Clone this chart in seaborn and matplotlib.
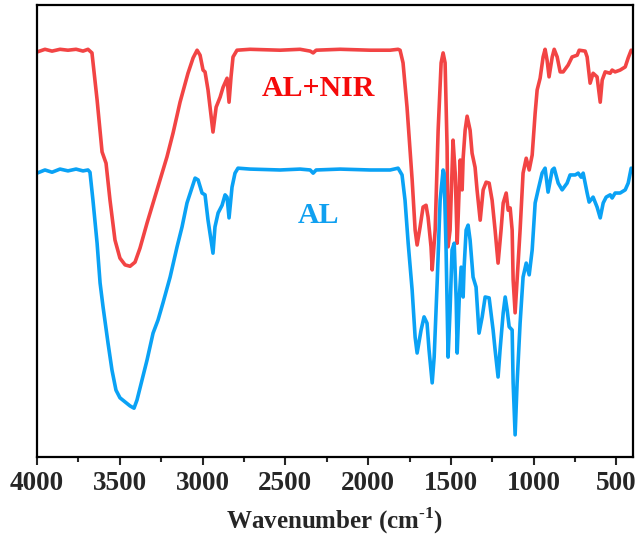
import matplotlib
matplotlib.use("Agg")
import matplotlib.pyplot as plt
from matplotlib.ticker import MultipleLocator
import seaborn as sns
import pandas as pd

# AL+NIR spectrum (wavenumber cm-1, transmittance a.u.)
wn_alnir = [4000, 3952, 3909, 3861, 3813, 3764, 3722, 3692, 3668, 3637, 3607, 3583, 3559, 3529,
            3499, 3468, 3438, 3408, 3378, 3335, 3275, 3215, 3178, 3136, 3088, 3057, 3033, 3015,
            2997, 2985, 2967, 2937, 2918, 2894, 2876, 2852, 2840, 2828, 2816, 2792, 2713, 2532,
            2411, 2350, 2332, 2314, 2169, 1988, 1867, 1819, 1807, 1789, 1765, 1734, 1716, 1704,
            1686, 1668, 1650, 1638, 1620, 1613, 1595, 1577, 1559, 1547, 1535, 1523, 1517, 1505,
            1493, 1487, 1474, 1462, 1456, 1444, 1432, 1426, 1414, 1402, 1384, 1372, 1354, 1342,
            1323, 1305, 1287, 1269, 1251, 1233, 1215, 1197, 1184, 1166, 1154, 1142, 1130, 1124,
            1112, 1100, 1082, 1064, 1045, 1027, 1009, 991, 979, 961, 943, 931, 919, 907, 888,
            876, 858, 840, 822, 792, 768, 737, 725, 689, 677, 659, 641, 617, 598, 586, 568, 538,
            526, 508, 478, 447, 429, 411]
t_alnir = [89.6, 90.2, 89.8, 90.2, 90.0, 90.2, 89.8, 90.2, 89.4, 79.0, 67.5, 65.0, 56.8, 48.0,
           44.0, 42.5, 42.2, 43.1, 46.2, 51.8, 59.1, 66.4, 71.7, 78.5, 84.9, 88.3, 90.0, 88.9,
           85.6, 85.2, 81.2, 71.9, 77.4, 79.6, 81.8, 83.8, 78.5, 84.1, 88.5, 90.0, 90.2, 90.0,
           90.2, 89.8, 89.4, 90.0, 90.2, 90.0, 90.0, 90.2, 90.0, 87.2, 77.4, 61.3, 50.2, 46.9,
           50.9, 55.3, 55.7, 53.1, 46.5, 41.4, 50.2, 72.3, 87.2, 89.4, 87.2, 68.6, 46.5, 50.2,
           63.5, 70.1, 62.8, 47.3, 53.1, 65.7, 59.1, 66.1, 72.3, 75.4, 72.3, 67.2, 64.1, 59.1,
           52.4, 59.1, 60.8, 60.6, 56.8, 50.2, 42.9, 50.2, 56.2, 58.4, 54.6, 55.1, 50.2, 39.2,
           31.9, 39.2, 50.2, 62.8, 66.1, 63.5, 66.8, 76.1, 81.2, 83.8, 88.5, 90.2, 87.8, 84.1, 88.5,
           90.2, 88.5, 85.2, 85.2, 86.7, 88.5, 88.9, 90.0, 89.8, 88.5, 82.7, 84.9, 84.1, 78.5, 83.4,
           85.2, 84.9, 85.6, 85.2, 85.6, 86.3, 88.3, 90.0]

# AL spectrum
wn_al = [4000, 3952, 3909, 3861, 3813, 3764, 3722, 3692, 3680, 3662, 3637, 3619, 3601, 3571,
         3547, 3523, 3499, 3468, 3438, 3414, 3396, 3366, 3335, 3299, 3269, 3239, 3196, 3154,
         3124, 3094, 3063, 3045, 3027, 3003, 2985, 2967, 2937, 2925, 2906, 2882, 2864, 2852,
         2840, 2822, 2804, 2786, 2713, 2532, 2411, 2350, 2332, 2314, 2169, 1988, 1867, 1819,
         1795, 1777, 1758, 1734, 1716, 1704, 1680, 1662, 1644, 1632, 1613, 1601, 1583, 1565,
         1547, 1541, 1529, 1517, 1505, 1493, 1480, 1468, 1462, 1450, 1438, 1426, 1420, 1408,
         1396, 1384, 1366, 1348, 1330, 1311, 1293, 1269, 1245, 1233, 1215, 1203, 1184, 1172,
         1160, 1148, 1130, 1124, 1112, 1100, 1082, 1064, 1045, 1027, 1009, 991, 973, 949, 931,
         913, 888, 876, 852, 828, 798, 780, 749, 731, 713, 701, 677, 665, 641, 617, 598, 580,
         562, 538, 526, 508, 478, 447, 429, 411]
t_al = [62.8, 63.5, 63.0, 63.7, 63.3, 63.7, 63.3, 63.5, 63.0, 56.8, 47.3, 38.5, 33.2, 25.2,
        19.2, 14.8, 13.1, 12.2, 11.3, 10.8, 12.6, 17.0, 21.5, 27.4, 30.3, 34.1, 39.8, 46.5,
        50.9, 56.2, 59.7, 61.7, 61.3, 58.4, 58.0, 52.4, 45.1, 50.9, 54.0, 55.7, 58.0, 57.5,
        52.9, 59.7, 62.8, 63.9, 63.7, 63.5, 63.7, 63.5, 62.8, 63.5, 63.7, 63.5, 63.5, 63.9,
        62.4, 56.8, 47.3, 36.9, 26.5, 23.0, 28.1, 31.0, 29.6, 23.7, 16.4, 22.1, 38.5, 56.8,
        63.5, 62.8, 45.8, 22.1, 32.5, 45.8, 47.3, 34.7, 23.0, 34.7, 42.0, 35.4, 42.0, 50.2,
        51.3, 48.0, 39.8, 37.6, 27.4, 31.0, 35.4, 35.2, 28.1, 23.7, 17.7, 23.7, 31.9, 35.4,
        32.5, 28.8, 28.1, 16.4, 4.9, 16.4, 29.6, 39.8, 42.9, 40.3, 45.8, 56.2, 59.1, 62.8, 63.9,
        58.6, 63.5, 63.9, 60.6, 59.1, 60.6, 62.4, 62.4, 62.8, 61.9, 62.8, 58.4, 56.4, 57.5, 55.3,
        52.9, 56.2, 57.5, 58.0, 57.3, 58.4, 58.4, 59.1, 60.6, 63.9]

xticks = [4000, 3500, 3000, 2500, 2000, 1500, 1000, 500]
labels = ["AL+NIR", "AL"]
colors = ["#F24444", "#0AA2F5"]
text_colors = ["#F50A0A", "#10A0F0"]

sns.set_theme(style="white")
plt.rcParams["font.family"] = ["Liberation Serif", "DejaVu Serif"]
plt.rcParams["mathtext.fontset"] = "custom"
plt.rcParams["mathtext.rm"] = "Liberation Serif:bold"
plt.rcParams["mathtext.bf"] = "Liberation Serif:bold"

fig = plt.figure(figsize=(6.39, 5.40), dpi=100)
ax = fig.add_axes([37/639, 1-457/540, (633-37)/639, (457-5)/540])

df1 = pd.DataFrame({"w": wn_alnir, "t": t_alnir})
df2 = pd.DataFrame({"w": wn_al, "t": t_al})
sns.lineplot(data=df1, x="w", y="t", ax=ax, color=colors[0], lw=2.6, estimator=None, sort=False)
sns.lineplot(data=df2, x="w", y="t", ax=ax, color=colors[1], lw=2.6, estimator=None, sort=False)

ax.set_xlim(4000, 400)
ax.set_ylim(0, 100)
ax.set_xticks(xticks)
ax.xaxis.set_minor_locator(MultipleLocator(250))
ax.set_yticks([])
ax.set_xticklabels([str(v) for v in xticks], fontsize=19.5, fontweight="bold")
ax.tick_params(axis="x", which="major", direction="out", length=6, width=1.5, bottom=True, pad=4)
ax.tick_params(axis="x", which="minor", direction="out", length=3.5, width=1.5, bottom=True)
ax.set_ylabel("")
ax.set_xlabel(r"Wavenumber (cm$^{\text{-}\mathbf{1}}$)", fontsize=18, fontweight="bold", labelpad=7)
for s in ax.spines.values():
    s.set_linewidth(1.6)
    s.set_color("black")

ax.text(2300, 81.6, labels[0], color=text_colors[0], fontsize=21.5, fontweight="bold",
        ha="center", va="center")
ax.text(2300, 53.5, labels[1], color=text_colors[1], fontsize=21.5, fontweight="bold",
        ha="center", va="center")

fig.savefig("out.png", dpi=100)
